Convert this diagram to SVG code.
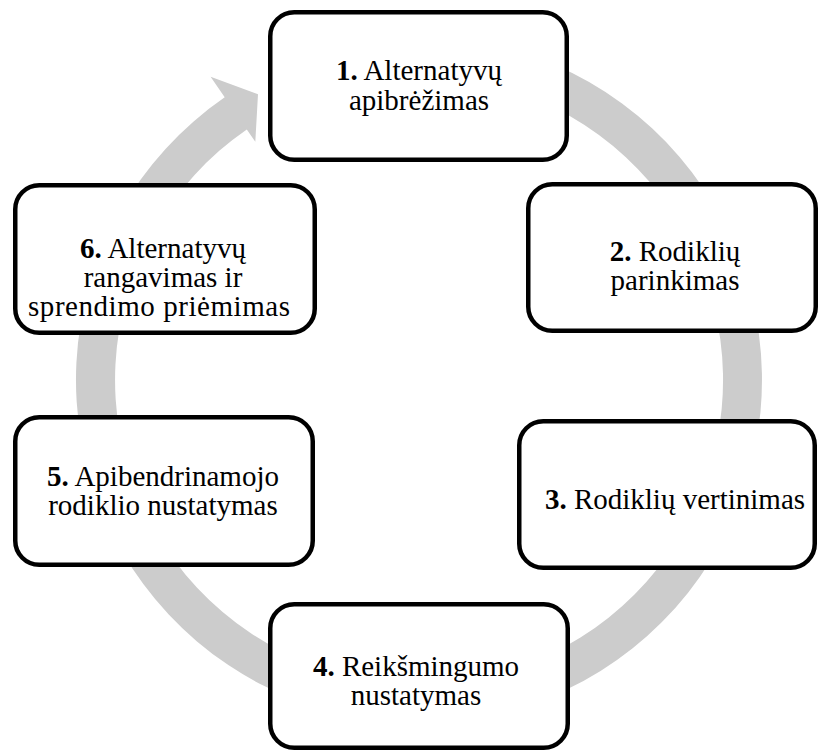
<svg xmlns="http://www.w3.org/2000/svg" width="819" height="751" viewBox="0 0 819 751">
  <style>
    .box { fill: #ffffff; stroke: #000000; stroke-width: 4.5; }
    .ring { fill: #cccccc; stroke: none; }
    .t { font-family: "Liberation Serif", "Times New Roman", serif; font-size: 29px; fill: #000000; text-anchor: middle; }
    .b { font-weight: bold; }
  </style>
  <rect width="819" height="751" fill="#ffffff"/>
  <g id="connectors">
    <path class="ring" d="M 478.6 42.2 A 343 343 0 1 1 224.7 97.3 L 210.6 76.7 L 258 94.2 L 255.3 141.8 L 246.8 129.5 A 304 304 0 1 0 471.8 80.6 Z"/>
  </g>
  <g id="node1">
    <rect class="box" x="270.25" y="12.25" width="296.5" height="147.5" rx="24"/>
    <text class="t" x="419" y="80"><tspan class="b">1.</tspan> Alternatyvų</text>
    <text class="t" x="419" y="110">apibrėžimas</text>
  </g>
  <g id="node2">
    <rect class="box" x="528.25" y="184.25" width="287.5" height="146.5" rx="24"/>
    <text class="t" x="675" y="261"><tspan class="b">2.</tspan> Rodiklių</text>
    <text class="t" x="675" y="290">parinkimas</text>
  </g>
  <g id="node3">
    <rect class="box" x="519.25" y="421.25" width="295.5" height="146.5" rx="24"/>
    <text class="t" x="675" y="509"><tspan class="b">3.</tspan> Rodiklių vertinimas</text>
  </g>
  <g id="node4">
    <rect class="box" x="270.25" y="604.25" width="297.5" height="143.5" rx="24"/>
    <text class="t" x="416" y="676"><tspan class="b">4.</tspan> Reikšmingumo</text>
    <text class="t" x="416" y="705">nustatymas</text>
  </g>
  <g id="node5">
    <rect class="box" x="15.25" y="417.25" width="297.5" height="147.5" rx="24"/>
    <text class="t" x="163" y="486"><tspan class="b">5.</tspan> Apibendrinamojo</text>
    <text class="t" x="163" y="515">rodiklio nustatymas</text>
  </g>
  <g id="node6">
    <rect class="box" x="15.25" y="185.25" width="299.5" height="147.5" rx="24"/>
    <text class="t" x="163" y="258"><tspan class="b">6.</tspan> Alternatyvų</text>
    <text class="t" x="163" y="287">rangavimas ir</text>
    <text class="t" x="159" y="316" textLength="262" lengthAdjust="spacing">sprendimo priėmimas</text>
  </g>
</svg>
